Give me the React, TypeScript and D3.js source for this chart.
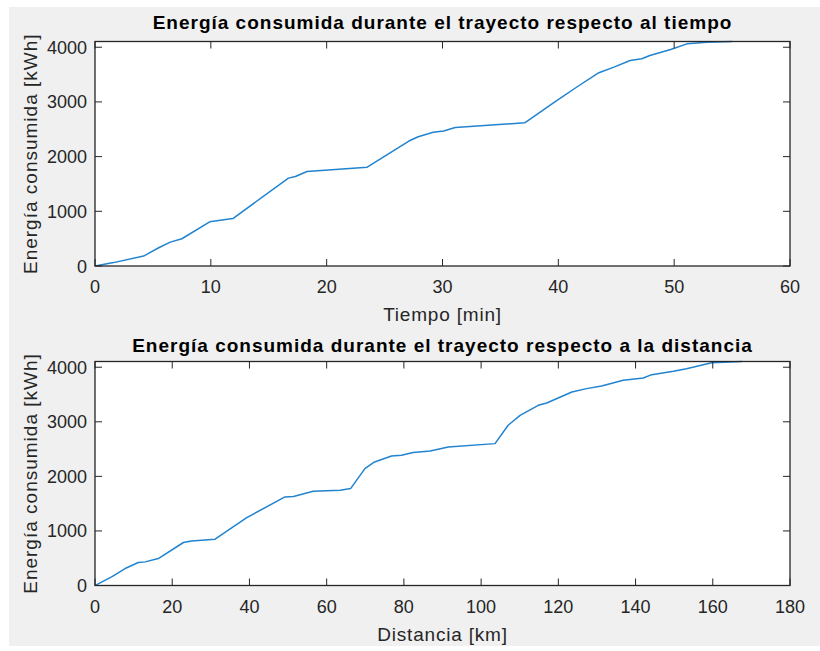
import React from "react";
import * as d3 from "d3";

const timeMin = [0, 1.6, 4.2, 5.5, 6.5, 7.5, 9.9, 11.9, 16.7, 17.3, 18.3, 23.5, 27.1, 27.9, 29.2, 30.1, 31.1, 37.1, 39.7, 41.6, 43.5, 44.8, 46.2, 47.2, 47.9, 49.7, 51.1, 52.8, 55.0];
const energyByTime = [0, 62, 182, 334, 437, 498, 807, 867, 1607, 1636, 1727, 1807, 2285, 2364, 2444, 2467, 2534, 2618, 3000, 3273, 3534, 3636, 3758, 3789, 3849, 3958, 4062, 4091, 4105];

const distKm = [0, 4.3, 7.8, 11.2, 13.0, 16.4, 22.9, 25.0, 31.1, 39.3, 49.2, 51.4, 56.5, 63.5, 66.2, 69.9, 72.4, 76.8, 79.4, 82.4, 86.8, 91.5, 103.6, 107.0, 110.1, 114.8, 117.0, 123.5, 127.3, 131.2, 136.8, 142.0, 144.2, 149.8, 153.2, 159.7, 167.5];
const energyByDist = [0, 158, 311, 421, 433, 494, 788, 817, 848, 1245, 1623, 1630, 1727, 1745, 1776, 2143, 2264, 2374, 2387, 2436, 2466, 2539, 2600, 2936, 3119, 3302, 3344, 3546, 3608, 3656, 3760, 3802, 3864, 3925, 3974, 4084, 4105];

const timeTicks = [0, 10, 20, 30, 40, 50, 60];
const distTicks = [0, 20, 40, 60, 80, 100, 120, 140, 160, 180];
const energyTicks = [0, 1000, 2000, 3000, 4000];

const FONT = "'Liberation Sans', Arial, Helvetica, sans-serif";
const AX = "#262626";
const LINE = "#2283cf";

type PanelProps = {
  top: number;
  bottom: number;
  xs: number[];
  ys: number[];
  xMax: number;
  xTicks: number[];
  title: string;
  titleBaseline: number;
  xLabel: string;
};

function Panel({ top, bottom, xs, ys, xMax, xTicks, title, titleBaseline, xLabel }: PanelProps) {
  const left = 95;
  const right = 790;
  const yMax = ys[ys.length - 1];
  const x = d3.scaleLinear().domain([0, xMax]).range([left, right]);
  const y = d3.scaleLinear().domain([0, yMax]).range([bottom, top]);
  const line = d3
    .line<number>()
    .x((_, i) => x(xs[i]))
    .y((d) => y(d));
  const tl = 7;
  const clipId = `clip-${Math.round(top)}`;
  return (
    <g>
      <rect x={left} y={top} width={right - left} height={bottom - top} fill="#ffffff" />
      <defs>
        <clipPath id={clipId}>
          <rect x={left} y={top - 2} width={right - left} height={bottom - top + 2} />
        </clipPath>
      </defs>
      <path d={line(ys) || ""} fill="none" stroke={LINE} strokeWidth={1.5} strokeLinejoin="round" clipPath={`url(#${clipId})`} />
      {xTicks.map((t) => (
        <g key={`x${t}`}>
          <line x1={x(t)} x2={x(t)} y1={bottom} y2={bottom - tl} stroke={AX} strokeWidth={1} />
          <line x1={x(t)} x2={x(t)} y1={top} y2={top + tl} stroke={AX} strokeWidth={1} />
          <text x={x(t)} y={bottom + 27} textAnchor="middle" fontFamily={FONT} fontSize={18} fill={AX}>
            {t}
          </text>
        </g>
      ))}
      {energyTicks.map((t) => (
        <g key={`y${t}`}>
          <line x1={left} x2={left + tl} y1={y(t)} y2={y(t)} stroke={AX} strokeWidth={1} />
          <line x1={right} x2={right - tl} y1={y(t)} y2={y(t)} stroke={AX} strokeWidth={1} />
          <text x={87} y={y(t) + 6.5} textAnchor="end" fontFamily={FONT} fontSize={18} fill={AX}>
            {t}
          </text>
        </g>
      ))}
      <rect x={left} y={top} width={right - left} height={bottom - top} fill="none" stroke={AX} strokeWidth={1.3} />
      <text
        x={(left + right) / 2}
        y={titleBaseline}
        textAnchor="middle"
        fontFamily={FONT}
        fontSize={19}
        letterSpacing={1}
        fontWeight="bold"
        fill="#000"
      >
        {title}
      </text>
      <text
        x={(left + right) / 2}
        y={bottom + 55}
        textAnchor="middle"
        fontFamily={FONT}
        fontSize={19}
        letterSpacing={0.8}
        fill={AX}
      >
        {xLabel}
      </text>
      <text
        transform={`translate(37, ${(top + bottom) / 2}) rotate(-90)`}
        textAnchor="middle"
        fontFamily={FONT}
        fontSize={19}
        letterSpacing={1}
        fill={AX}
      >
        Energía consumida [kWh]
      </text>
    </g>
  );
}

export default function App() {
  return (
    <div style={{ position: "fixed", left: 0, top: 0 }}>
      <svg width={820} height={651} style={{ display: "block" }}>
        <rect x={0} y={0} width={820} height={651} fill="#ffffff" />
        <rect x={9} y={7} width={811} height={639} fill="#f0f0f0" />
        <Panel
          top={41.5}
          bottom={266}
          xs={timeMin}
          ys={energyByTime}
          xMax={60}
          xTicks={timeTicks}
          title="Energía consumida durante el trayecto respecto al tiempo"
          titleBaseline={28.5}
          xLabel="Tiempo [min]"
        />
        <Panel
          top={361.5}
          bottom={585.5}
          xs={distKm}
          ys={energyByDist}
          xMax={180}
          xTicks={distTicks}
          title="Energía consumida durante el trayecto respecto a la distancia"
          titleBaseline={351.5}
          xLabel="Distancia [km]"
        />
      </svg>
    </div>
  );
}
